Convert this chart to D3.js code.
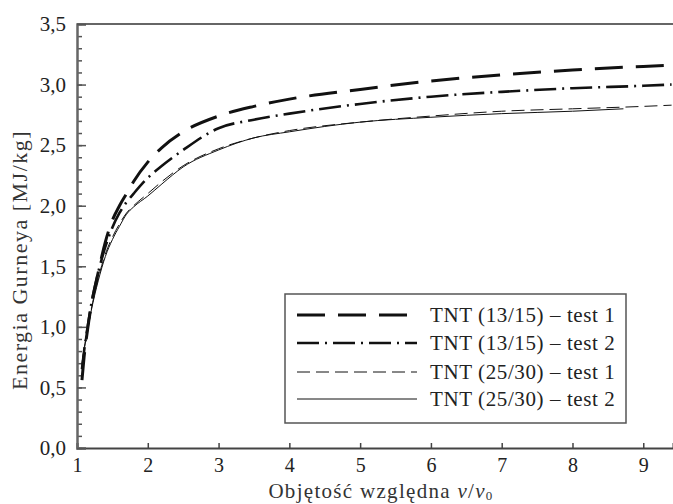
<!DOCTYPE html>
<html>
<head>
<meta charset="utf-8">
<script src="https://cdn.jsdelivr.net/npm/d3@7"></script>
<style>
  body { margin: 0; background: #fff; }
  svg { font-family: "Liberation Serif", "DejaVu Serif", serif; }
</style>
</head>
<body>
<div id="chart"></div>
<script>
const width = 673;
const height = 504;

const xTicks = [1, 2, 3, 4, 5, 6, 7, 8, 9];
const yTicks = [0, 0.5, 1, 1.5, 2, 2.5, 3, 3.5];
const yLabels = ["0,0", "0,5", "1,0", "1,5", "2,0", "2,5", "3,0", "3,5"];

const seriesNames = ["TNT (13/15) – test 1", "TNT (13/15) – test 2", "TNT (25/30) – test 1", "TNT (25/30) – test 2"];

const xA = [1.07, 1.1, 1.15, 1.2, 1.3, 1.4, 1.5, 1.6, 1.7, 1.8, 2, 2.2, 2.5, 3, 3.5, 4, 5, 6, 7, 8, 9, 9.4];
const tnt13t1 = [0.56, 0.75, 0.98, 1.17, 1.45, 1.7, 1.88, 2.0, 2.1, 2.2, 2.36, 2.48, 2.61, 2.74, 2.82, 2.88, 2.96, 3.03, 3.08, 3.12, 3.15, 3.16];
const tnt13t2 = [0.65, 0.8, 1.0, 1.18, 1.45, 1.66, 1.82, 1.94, 2.03, 2.1, 2.23, 2.33, 2.46, 2.64, 2.71, 2.76, 2.84, 2.9, 2.94, 2.97, 2.99, 3.0];
const tnt25t1 = [0.68, 0.8, 0.98, 1.14, 1.4, 1.6, 1.74, 1.85, 1.94, 2.0, 2.1, 2.2, 2.33, 2.47, 2.56, 2.62, 2.69, 2.74, 2.78, 2.8, 2.82, 2.83];
const xB = [1.07, 1.1, 1.15, 1.2, 1.3, 1.4, 1.5, 1.6, 1.7, 1.8, 2, 2.2, 2.5, 3, 3.5, 4, 5, 6, 7, 8, 8.72];
const tnt25t2 = [0.7, 0.82, 0.98, 1.13, 1.38, 1.58, 1.72, 1.83, 1.93, 1.99, 2.08, 2.18, 2.32, 2.46, 2.56, 2.61, 2.69, 2.73, 2.76, 2.78, 2.8];

const styles = [
  { width: 3, dash: "28,13" },
  { width: 2.6, dash: "22,6,2,6" },
  { width: 1, dash: "13,6" },
  { width: 1, dash: null }
];

const series = [
  { xs: xA, ys: tnt13t1 },
  { xs: xA, ys: tnt13t2 },
  { xs: xA, ys: tnt25t1 },
  { xs: xB, ys: tnt25t2 }
];

const x = d3.scaleLinear().domain([1, 9.42]).range([77, 673]);
const y = d3.scaleLinear().domain([0, 3.5]).range([448, 24]);

const svg = d3.select("#chart").append("svg")
  .attr("width", width)
  .attr("height", height);

svg.append("clipPath").attr("id", "clip")
  .append("rect").attr("x", 77).attr("y", 24).attr("width", 600).attr("height", 424);

// top frame line
svg.append("line").attr("x1", 77).attr("x2", 673).attr("y1", 24).attr("y2", 24)
  .attr("stroke", "#666").attr("stroke-width", 2);

const xAxis = svg.append("g").attr("transform", "translate(0,448)")
  .call(d3.axisBottom(x).tickValues(xTicks).tickSize(-5).tickFormat(d3.format("d")));
xAxis.select(".domain").attr("stroke", "#444").attr("stroke-width", 2);
xAxis.selectAll(".tick line").attr("stroke", "#444").attr("stroke-width", 1.5);
xAxis.selectAll("text").attr("y", 6).attr("dy", "0.9em").attr("font-size", 20).attr("fill", "#222")
  .attr("font-family", "Liberation Serif, serif");

const yMinor = d3.range(0, 3.51, 0.1);
const yAxisMinor = svg.append("g").attr("transform", "translate(77,0)")
  .call(d3.axisLeft(y).tickValues(yMinor).tickSize(-5).tickFormat(""));
yAxisMinor.select(".domain").remove();
yAxisMinor.selectAll(".tick line").attr("stroke", "#555").attr("stroke-width", 1.5);

const yAxis = svg.append("g").attr("transform", "translate(77,0)")
  .call(d3.axisLeft(y).tickValues(yTicks).tickSize(-9).tickFormat((d, i) => yLabels[i]));
yAxis.select(".domain").attr("stroke", "#666").attr("stroke-width", 2.5);
yAxis.selectAll(".tick line").attr("stroke", "#555").attr("stroke-width", 1.5);
yAxis.selectAll("text").attr("x", -11).attr("font-size", 21).attr("fill", "#222")
  .attr("font-family", "Liberation Serif, serif");

const line = d3.line().curve(d3.curveMonotoneX);

const plot = svg.append("g").attr("clip-path", "url(#clip)");
series.forEach((s, i) => {
  const pts = s.xs.map((v, j) => [x(v), y(s.ys[j])]);
  plot.append("path")
    .attr("d", line(pts))
    .attr("fill", "none")
    .attr("stroke", "#111")
    .attr("stroke-width", styles[i].width)
    .attr("stroke-dasharray", styles[i].dash);
});

// legend
const legend = svg.append("g");
legend.append("rect").attr("x", 285).attr("y", 294).attr("width", 341).attr("height", 129)
  .attr("fill", "#fff").attr("stroke", "#555").attr("stroke-width", 1.5);
const rowY = [315, 343, 372, 399];
seriesNames.forEach((name, i) => {
  legend.append("line")
    .attr("x1", 297).attr("x2", 417).attr("y1", rowY[i]).attr("y2", rowY[i])
    .attr("stroke", "#111")
    .attr("stroke-width", styles[i].width)
    .attr("stroke-dasharray", styles[i].dash);
  legend.append("text")
    .attr("x", 430).attr("y", rowY[i] + 7)
    .attr("font-size", 21).attr("letter-spacing", 0.6).attr("fill", "#222")
    .text(name);
});

// axis titles
svg.append("text")
  .attr("transform", "translate(27,260) rotate(-90)")
  .attr("text-anchor", "middle")
  .attr("font-size", 22).attr("letter-spacing", 1.5).attr("fill", "#333")
  .text("Energia Gurneya [MJ/kg]");

const xt = svg.append("text")
  .attr("x", 381).attr("y", 498)
  .attr("text-anchor", "middle")
  .attr("font-size", 21).attr("letter-spacing", 1.3).attr("fill", "#333");
xt.append("tspan").text("Objętość względna ");
xt.append("tspan").attr("font-style", "italic").text("v");
xt.append("tspan").text("/");
xt.append("tspan").attr("font-style", "italic").text("v");
xt.append("tspan").attr("font-size", 13).attr("dy", 2).text("0");
</script>
</body>
</html>
